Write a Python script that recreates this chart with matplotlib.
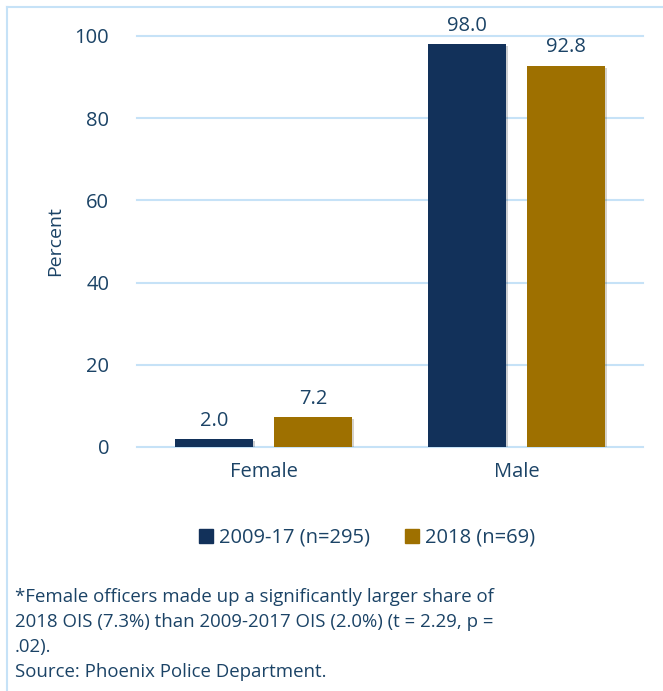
import numpy as np
import matplotlib.pyplot as plt
import matplotlib.patheffects as pe
from matplotlib.lines import Line2D

plt.rcParams['font.family'] = ['Open Sans', 'DejaVu Sans']

categories = ['Female', 'Male']
series_names = ['2009-17 (n=295)', '2018 (n=69)']
vals_0917 = [2.0, 98.0]
vals_2018 = [7.2, 92.8]
yticks = [0, 20, 40, 60, 80, 100]

navy = '#12315A'
gold = '#9E7000'
txt = '#1B4366'
grid = '#C6E2F7'

fig = plt.figure(figsize=(6.63, 6.91), dpi=100)
ax = fig.add_axes([137 / 663, 1 - 447 / 691, 506 / 663, (447 - 36) / 691])

x = np.arange(len(categories))
w = 0.31
shadow = [pe.SimplePatchShadow(offset=(1.5, -1.5), alpha=0.2), pe.Normal()]
b1 = ax.bar(x - 0.195, vals_0917, w, color=navy, label=series_names[0], zorder=3,
            path_effects=shadow)
b2 = ax.bar(x + 0.195, vals_2018, w, color=gold, label=series_names[1], zorder=3,
            path_effects=shadow)

for bars, vals in [(b1, vals_0917), (b2, vals_2018)]:
    for r, v in zip(bars, vals):
        ax.text(r.get_x() + r.get_width() / 2, v + 2.0, f'{v:.1f}', ha='center',
                va='bottom', fontsize=14.5, color=txt)

ax.set_xlim(-0.5, 1.5)
ax.set_ylim(0, 100)
ax.set_yticks(yticks)
ax.set_xticks(x)
ax.set_xticklabels(categories)
ax.tick_params(length=0, labelsize=14.5, labelcolor=txt)
ax.tick_params(axis='y', pad=20)
ax.tick_params(axis='x', pad=11)
ax.grid(axis='y', color=grid, lw=1.5, zorder=0)
for s in ax.spines.values():
    s.set_visible(False)
ax.set_ylabel('Percent', fontsize=14, color=txt)
ax.yaxis.set_label_coords(-73 / 506, 0.5)
for gl in ax.get_ygridlines():
    gl.set_clip_on(False)

handles = [plt.Rectangle((0, 0), 1, 1, color=navy), plt.Rectangle((0, 0), 1, 1, color=gold)]
fig.legend(handles, series_names, loc='center', bbox_to_anchor=(367 / 663, 1 - 538 / 691),
           ncol=2, frameon=False, fontsize=14.5, handlelength=0.7, handleheight=0.7,
           handletextpad=0.3, columnspacing=1.7, labelcolor=txt)

note = ('*Female officers made up a significantly larger share of\n'
        '2018 OIS (7.3%) than 2009-2017 OIS (2.0%) (t = 2.29, p =\n'
        '.02).\n'
        'Source: Phoenix Police Department.')
fig.text(15 / 663, 1 - 588 / 691, note, ha='left', va='top', fontsize=13.4,
         color=txt, linespacing=1.5)

# frame (left and top edges visible)
fig.add_artist(Line2D([7 / 663, 7 / 663], [0, 1 - 7 / 691], color=grid, lw=1.5,
                      transform=fig.transFigure))
fig.add_artist(Line2D([7 / 663, 1], [1 - 7 / 691, 1 - 7 / 691], color=grid, lw=1.5,
                      transform=fig.transFigure))

fig.savefig('out.png', dpi=100)
